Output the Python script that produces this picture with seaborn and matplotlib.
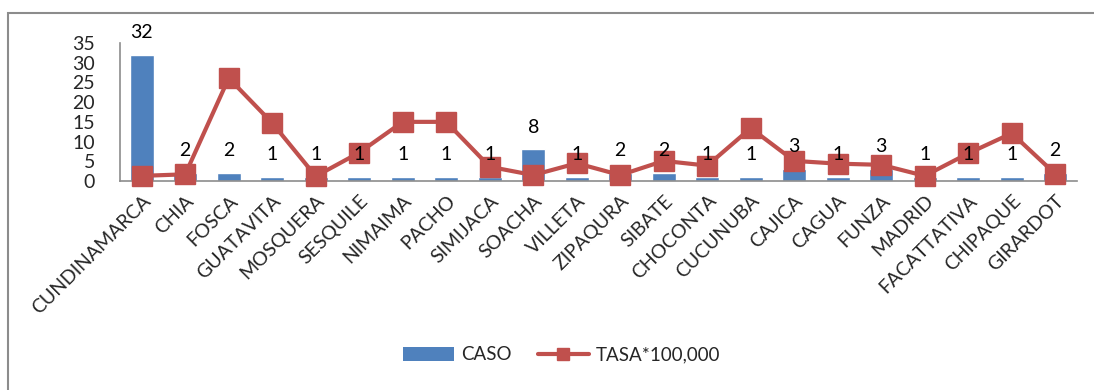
import matplotlib
matplotlib.use("Agg")
import matplotlib.pyplot as plt
import seaborn as sns
import pandas as pd
import numpy as np
from matplotlib.lines import Line2D
from matplotlib.patches import Patch, Rectangle

categories = ["CUNDINAMARCA", "CHIA", "FOSCA", "GUATAVITA", "MOSQUERA", "SESQUILE",
              "NIMAIMA", "PACHO", "SIMIJACA", "SOACHA", "VILLETA", "ZIPAQURA",
              "SIBATE", "CHOCONTA", "CUCUNUBA", "CAJICA", "CAGUA", "FUNZA",
              "MADRID", "FACATTATIVA", "CHIPAQUE", "GIRARDOT"]
caso = [32, 2, 2, 1, 1, 1, 1, 1, 1, 8, 1, 2, 2, 1, 1, 3, 1, 3, 1, 1, 1, 2]
tasa = [1.3, 1.7, 26.1, 14.7, 1.2, 7.2, 15.0, 15.0, 3.6, 1.5, 4.5, 1.5,
        5.1, 3.9, 13.4, 5.1, 4.4, 4.1, 1.3, 7.0, 12.1, 1.8]
yticks = [0, 5, 10, 15, 20, 25, 30, 35]

bar_color = "#4F81BD"
line_color = "#C0504D"

df = pd.DataFrame({"cat": categories, "caso": caso, "tasa": tasa})

sns.set_style("white")
plt.rcParams["font.family"] = ["Lato", "DejaVu Sans"]

fig = plt.figure(figsize=(10.94, 3.90), dpi=100)
ax = fig.add_axes([120 / 1094, 1 - 181 / 390, (1077 - 120) / 1094, (181 - 43) / 390])

sns.barplot(data=df, x="cat", y="caso", color=bar_color, width=0.55,
            saturation=1, ax=ax, zorder=2)
x = np.arange(len(categories))
ax.plot(x, df["tasa"], color=line_color, lw=3, marker="s", markersize=14,
        zorder=3, clip_on=False)

for cont in ax.containers:
    ax.bar_label(cont, labels=[str(v) for v in caso], padding=10, fontsize=14,
                 color="black", zorder=4)

ax.set_xlim(-0.5, len(categories) - 0.5)
ax.set_ylim(0, 35)
ax.set_yticks(yticks)
ax.set_yticklabels([str(t) for t in yticks], fontsize=14)
ax.set_xticks(x)
ax.set_xticklabels(categories, rotation=45, ha="right", rotation_mode="anchor",
                   fontsize=14)
ax.set_xlabel("")
ax.set_ylabel("")
for s in ["top", "right"]:
    ax.spines[s].set_visible(False)
for s in ["left", "bottom"]:
    ax.spines[s].set_color("#8c8c8c")
    ax.spines[s].set_linewidth(1.2)
ax.tick_params(axis="x", length=0, pad=8)
ax.tick_params(axis="y", length=0, pad=18)

handles = [Patch(facecolor=bar_color, edgecolor="none"),
           Line2D([0], [0], color=line_color, lw=3, marker="s", markersize=9)]
fig.legend(handles, ["CASO", "TASA*100,000"], loc="center",
           bbox_to_anchor=(562 / 1094, 1 - 355 / 390), ncol=2, frameon=False,
           fontsize=13.5, handlelength=2.7, columnspacing=1.4, handletextpad=0.4)

fig.patches.append(Rectangle((8 / 1094, -0.1), 1.2, 1 - 13 / 390 + 0.1,
                             transform=fig.transFigure, fill=False,
                             edgecolor="#8c8c8c", lw=1.5))

fig.savefig("out.png", dpi=100, facecolor="white")
